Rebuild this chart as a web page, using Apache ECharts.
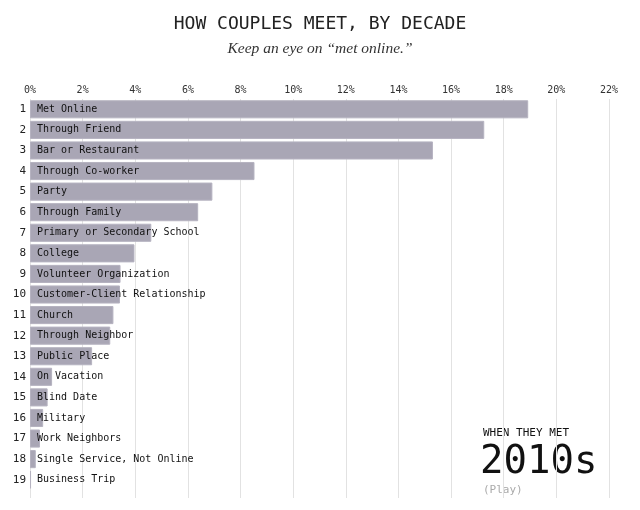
<!DOCTYPE html>
<html>
<head>
<meta charset="utf-8">
<script src="https://cdn.jsdelivr.net/npm/echarts@6/dist/echarts.min.js"></script>
<style>
  html, body { margin: 0; padding: 0; background: #fff; }
  #main { width: 640px; height: 510px; }
</style>
</head>
<body>
<div id="main"></div>
<script>
// how couples met, share of couples (%), 2010s
var places = ['Met Online', 'Through Friend', 'Bar or Restaurant', 'Through Co-worker', 'Party',
  'Through Family', 'Primary or Secondary School', 'College', 'Volunteer Organization',
  'Customer-Client Relationship', 'Church', 'Through Neighbor', 'Public Place', 'On Vacation',
  'Blind Date', 'Military', 'Work Neighbors', 'Single Service, Not Online', 'Business Trip'];
var shares = [18.93, 17.26, 15.31, 8.53, 6.93, 6.39, 4.61, 3.97, 3.44, 3.42,
  3.17, 3.05, 2.36, 0.84, 0.67, 0.50, 0.38, 0.22, 0.04];
var decade = '2010s';

(function() {
  var myChart = echarts.init(document.getElementById('main'));
  var mono = 'DejaVu Sans Mono';

  var option = {
    animation: false,
    title: {
      text: 'HOW COUPLES MEET, BY DECADE',
      subtext: 'Keep an eye on \u201cmet online.\u201d',
      left: 'center',
      top: 9,
      itemGap: 6,
      textStyle: {
        fontFamily: mono,
        fontSize: 18,
        fontWeight: 'normal',
        color: '#222',
        lineHeight: 20
      },
      subtextStyle: {
        fontFamily: 'Liberation Serif',
        fontStyle: 'italic',
        fontSize: 15.5,
        color: '#333',
        lineHeight: 18
      }
    },
    grid: [
      { left: 30, right: 31, top: 99, bottom: 20 },
      // gridlines run a little below the last bar
      { left: 30, right: 31, top: 99, bottom: 12 }
    ],
    xAxis: [
      {
        type: 'value',
        position: 'top',
        min: 0,
        max: 22,
        interval: 2,
        axisLine: { show: false },
        axisTick: { show: false },
        axisLabel: {
          formatter: '{value}%',
          fontFamily: mono,
          fontSize: 10,
          color: '#333',
          margin: 4
        },
        splitLine: { show: false }
      },
      {
        type: 'value',
        gridIndex: 1,
        min: 0,
        max: 22,
        interval: 2,
        axisLine: { show: false },
        axisTick: { show: false },
        axisLabel: { show: false },
        splitLine: { lineStyle: { color: '#e2e2e2', width: 1 } }
      }
    ],
    yAxis: [
      {
        type: 'category',
        inverse: true,
        data: places,
        axisLine: { show: false },
        axisTick: { show: false },
        axisLabel: {
          fontFamily: mono,
          fontSize: 11,
          color: '#222',
          margin: 4,
          formatter: function (value, idx) {
            return String(idx + 1);
          }
        }
      },
      {
        type: 'value',
        gridIndex: 1,
        min: 0,
        max: 1,
        show: false
      }
    ],
    series: [
      {
        type: 'bar',
        data: shares,
        barCategoryGap: '12%',
        itemStyle: {
          color: '#a9a6b5',
          borderColor: '#b6b3c1',
          borderWidth: 1
        },
        label: {
          show: true,
          position: 'insideLeft',
          distance: 7,
          formatter: '{b}',
          fontFamily: mono,
          fontSize: 10,
          color: '#111'
        },
        silent: true
      }
    ],
    graphic: [
      {
        type: 'text',
        left: 483,
        top: 428,
        style: {
          text: 'WHEN THEY MET',
          font: '11px "DejaVu Sans Mono"',
          fill: '#111'
        }
      },
      {
        type: 'text',
        left: 480,
        top: 443,
        style: {
          text: decade,
          font: '39px "DejaVu Sans Mono"',
          fill: '#111'
        }
      },
      {
        type: 'text',
        left: 483,
        top: 485,
        style: {
          text: '(Play)',
          font: '11px "DejaVu Sans Mono"',
          fill: '#aaa'
        }
      }
    ]
  };
  myChart.setOption(option);
})();
</script>
</body>
</html>
